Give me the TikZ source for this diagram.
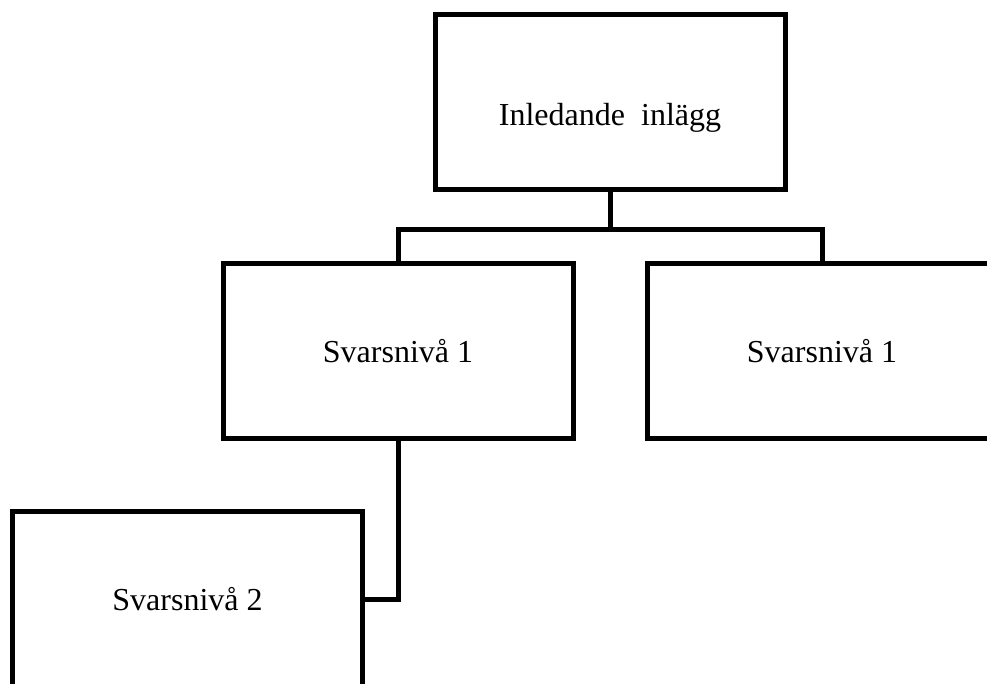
\documentclass[tikz,border=0pt]{standalone}
\usepackage{fontspec}
\setmainfont{Liberation Serif}
\usepackage{tikz}
\usetikzlibrary{calc}

\begin{document}
\begin{tikzpicture}[x=1pt, y=-1pt, line width=5pt,
	box/.style={draw, inner sep=0pt, minimum width=350pt, minimum height=175pt, font=\fontsize{32}{38}\selectfont}]
	\useasboundingbox (0, 0) rectangle (987, 684);
	\clip (0, 0) rectangle (987, 684);
	\node[box, text height=53pt, text depth=7pt] (I) at (610, 102.5) {Inledande \ inlägg};
	\node[box] (S1) at (398, 351) {Svarsnivå 1};
	\node[box] (S1b) at (822, 351) {Svarsnivå 1};
	\node[box] (S2) at (187.5, 599) {Svarsnivå 2};
	\coordinate (J) at ($(I.south) + (0, 37)$);
	\draw (I.south) -- (J);
	\draw (S1.north) |- (J) -| (S1b.north);
	\draw (S1.south) |- (S2.east);
\end{tikzpicture}
\end{document}
